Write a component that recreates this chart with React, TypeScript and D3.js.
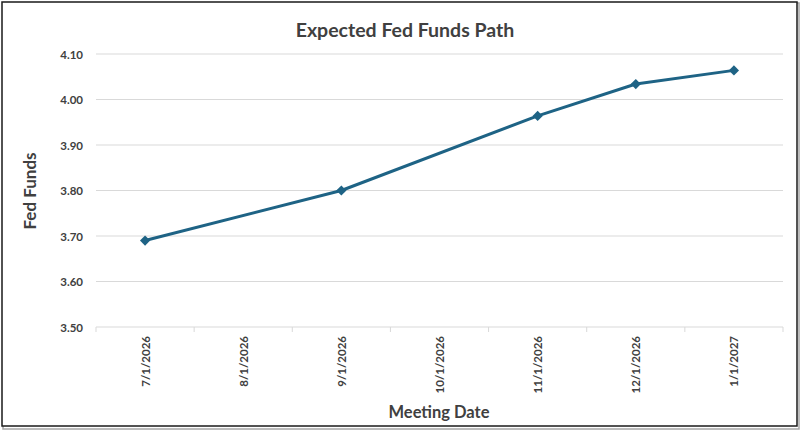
import * as d3 from 'd3';

const CATEGORIES = ['7/1/2026', '8/1/2026', '9/1/2026', '10/1/2026', '11/1/2026', '12/1/2026', '1/1/2027'];
// null where no meeting value is plotted; the line joins across the gaps
const VALUES: (number | null)[] = [3.69, null, 3.8, null, 3.964, 4.034, 4.064];
const Y_TICKS = [3.5, 3.6, 3.7, 3.8, 3.9, 4.0, 4.1];

const W = 800;
const H = 432;
const FONT = 'Lato, "Open Sans", sans-serif';
const INK = '#404040';
const LINE = '#1e6385';

export default function App() {
  const plot = { left: 96, right: 783, top: 54, bottom: 327 };

  const x = d3.scaleBand<string>().domain(CATEGORIES).range([plot.left, plot.right]).padding(0);
  const y = d3.scaleLinear().domain([3.5, 4.1]).range([plot.bottom, plot.top]);

  const points = CATEGORIES
    .map((c, i) => ({ c, v: VALUES[i] }))
    .filter((d): d is { c: string; v: number } => d.v !== null);

  const cx = (c: string) => (x(c) ?? 0) + x.bandwidth() / 2;

  const line = d3.line<{ c: string; v: number }>()
    .x(d => cx(d.c))
    .y(d => y(d.v));

  const marker = d3.symbol().type(d3.symbolSquare).size(52)();

  const edges = [...CATEGORIES.map(c => x(c) ?? 0), plot.right];

  return (
    <svg width={W} height={H} style={{ position: 'absolute', left: 0, top: 0, background: '#fff' }}>
      {/* frame with a soft shadow */}
      <rect x={3} y={3} width={W - 4} height={H - 6} fill="none" stroke="#a6a6a6" strokeWidth={1.5} />
      <rect x={2} y={2} width={W - 5} height={H - 8} fill="#fff" stroke="#1a1a1a" strokeWidth={1.5} />

      <text x={405} y={37} textAnchor="middle" fontFamily={FONT} fontWeight={700} fontSize={19.5} fill={INK}>
        Expected Fed Funds Path
      </text>

      {/* Grid */}
      {Y_TICKS.map(t => (
        <g key={t}>
          <line x1={plot.left} x2={plot.right} y1={y(t)} y2={y(t)} stroke="#d9d9d9" strokeWidth={1} />
          <text x={83} y={y(t)} textAnchor="end" dominantBaseline="central" fontFamily={FONT} fontWeight={700} fontSize={11.5} fill={INK}>
            {t.toFixed(2)}
          </text>
        </g>
      ))}

      {/* x axis ticks */}
      {edges.map((ex, i) => (
        <line key={i} x1={ex} x2={ex} y1={plot.bottom} y2={plot.bottom + 5} stroke="#d9d9d9" strokeWidth={1} />
      ))}
      {CATEGORIES.map(c => (
        <text
          key={c}
          transform={`translate(${cx(c)},${plot.bottom + 9}) rotate(-90)`}
          textAnchor="end"
          dominantBaseline="central"
          fontFamily={FONT}
          fontWeight={700}
          fontSize={11.5}
          fill={INK}
        >
          {c}
        </text>
      ))}

      <path d={line(points) ?? ''} fill="none" stroke={LINE} strokeWidth={3} strokeLinejoin="round" />
      {points.map(d => (
        <path key={d.c} d={marker ?? ''} transform={`translate(${cx(d.c)},${y(d.v)}) rotate(45)`} fill={LINE} />
      ))}

      <text transform="translate(36,191) rotate(-90)" textAnchor="middle" fontFamily={FONT} fontWeight={700} fontSize={17} fill={INK}>
        Fed Funds
      </text>
      <text x={439} y={418} textAnchor="middle" fontFamily={FONT} fontWeight={700} fontSize={16.5} fill={INK}>
        Meeting Date
      </text>
    </svg>
  );
}
